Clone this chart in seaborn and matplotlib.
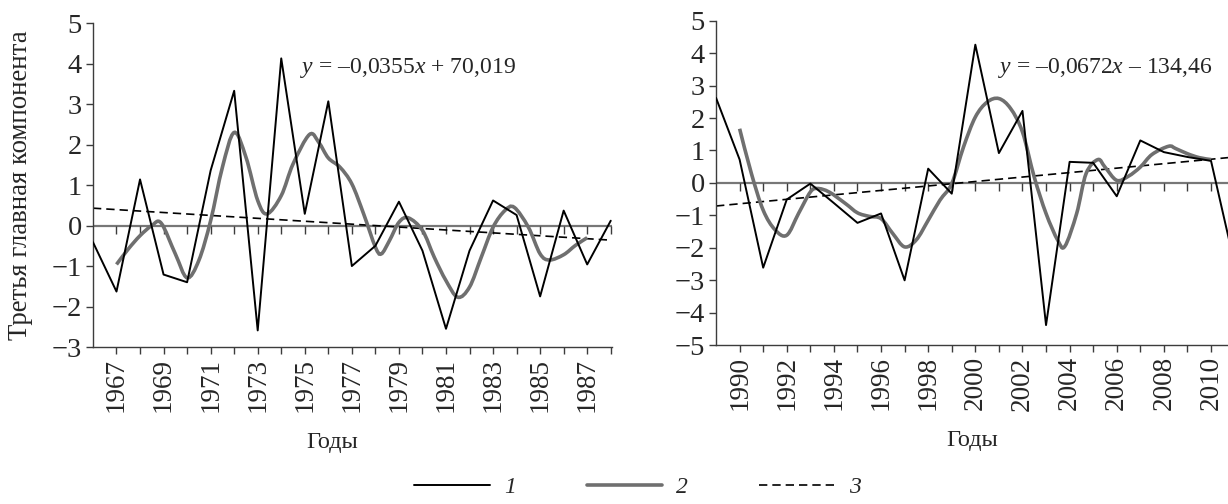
import numpy as np
import matplotlib
matplotlib.use("Agg")
import matplotlib.pyplot as plt
from matplotlib.path import Path
from matplotlib.patches import PathPatch
from matplotlib.lines import Line2D
import seaborn as sns

# ---------------------------------------------------------------- data -----#
# period 1: 1966-1988
years_a = list(range(1966, 1989))
pc3_a = [-0.41, -1.63, 1.14, -1.21, -1.40, 1.36, 3.33, -2.59, 4.13, 0.29, 3.07,
         -1.00, -0.50, 0.59, -0.62, -2.55, -0.62, 0.62, 0.26, -1.75, 0.37, -0.96, 0.12]
# smoothed curve (knots)
smooth_x_a = [1967.0, 1967.5, 1968.0, 1968.5, 1968.9, 1969.5, 1970.0, 1970.5, 1971.0,
              1971.5, 1972.0, 1972.5, 1973.0, 1973.4, 1974.0, 1974.5, 1975.2, 1975.6,
              1976.0, 1976.5, 1977.0, 1977.5, 1978.0, 1978.25, 1978.6, 1979.0, 1979.4,
              1980.0, 1980.5, 1981.0, 1981.5, 1982.0, 1982.5, 1983.0, 1983.5, 1983.9,
              1984.5, 1985.0, 1985.4, 1986.0, 1986.5, 1987.0]
smooth_a = [-0.96, -0.58, -0.25, 0.0, 0.06, -0.70, -1.29, -0.86, 0.12,
            1.44, 2.30, 1.69, 0.62, 0.29, 0.74, 1.52, 2.25, 2.05,
            1.67, 1.44, 1.03, 0.29, -0.53, -0.70, -0.37, 0.08, 0.19,
            -0.12, -0.78, -1.36, -1.77, -1.52, -0.78, -0.04, 0.37, 0.45,
            -0.04, -0.70, -0.85, -0.72, -0.49, -0.30]
trend_x_a = [1966, 1988]
trend_a = [0.43, -0.36]

# period 2: 1989-2011
years_b = list(range(1989, 2012))
pc3_b = [2.62, 0.72, -2.61, -0.51, -0.02, -0.62, -1.23, -0.94, -3.00, 0.44, -0.33,
         4.26, 0.92, 2.22, -4.38, 0.65, 0.62, -0.41, 1.31, 0.95, 0.80, 0.68, -2.50]
smooth_x_b = [1990.0, 1990.5, 1991.0, 1991.5, 1992.0, 1992.5, 1993.0, 1993.3, 1993.8,
              1994.5, 1995.0, 1995.5, 1996.0, 1996.5, 1997.0, 1997.5, 1998.0, 1998.5,
              1999.0, 1999.5, 2000.0, 2000.5, 2001.0, 2001.5, 2002.0, 2002.5, 2003.0,
              2003.5, 2003.8, 2004.3, 2004.7, 2005.2, 2005.5, 2006.0, 2006.5, 2007.0,
              2007.5, 2008.2, 2008.5, 2009.0, 2009.5, 2010.0]
smooth_b = [1.67, 0.29, -0.84, -1.44, -1.61, -0.94, -0.28, -0.17, -0.28,
            -0.64, -0.92, -1.03, -1.10, -1.56, -1.97, -1.75, -1.15, -0.53,
            -0.02, 1.11, 2.03, 2.49, 2.60, 2.29, 1.57, 0.18, -0.94,
            -1.77, -1.95, -0.94, 0.29, 0.72, 0.49, 0.08, 0.21, 0.49,
            0.88, 1.13, 1.06, 0.90, 0.78, 0.72]
trend_x_b = [1989, 2010.72]
trend_b = [-0.71, 0.78]

eq_a = "$y$ = –0,0355$x$ + 70,019"
eq_b = "$y$ = –0,0672$x$ – 134,46"
legend_labels = ["1", "2", "3"]
#-----------------------------------------------------------------------------#

sns.set_style("ticks")
plt.rcParams["font.family"] = ["Liberation Serif", "DejaVu Serif"]
plt.rcParams["mathtext.fontset"] = "custom"
plt.rcParams["mathtext.rm"] = "Liberation Serif"
plt.rcParams["mathtext.it"] = "Liberation Serif:italic"

GRAY = "#6f6f6f"
AXC = "#3c3c3c"


def smooth_path(x, y):
    # catmull-rom style bezier, like a "smoothed line" in a spreadsheet
    pts = np.column_stack([x, y])
    ext = np.vstack([pts[0], pts, pts[-1]])
    verts = [pts[0]]
    codes = [Path.MOVETO]
    for i in range(len(pts) - 1):
        p0, p1, p2, p3 = ext[i], ext[i + 1], ext[i + 2], ext[i + 3]
        verts += [p1 + (p2 - p0) / 6, p2 - (p3 - p1) / 6, p2]
        codes += [Path.CURVE4] * 3
    return Path(verts, codes)


def panel(ax, years, vals, sx, sy, tx, ty, xlim, ylim, tick_years, label_years, eq, eq_pos, xlab_x):
    sns.lineplot(x=years, y=vals, ax=ax, color="black", lw=1.4, zorder=4)
    ax.add_patch(PathPatch(smooth_path(sx, sy), fill=False, edgecolor=GRAY, lw=2.6, zorder=3))
    sns.lineplot(x=tx, y=ty, ax=ax, color="black", lw=1.2, dashes=(5, 3), zorder=2)

    ax.axhline(0, color="#777777", lw=1.6, zorder=1)
    ax.plot(tick_years, np.zeros(len(tick_years)), ls="none", marker=3, ms=6,
            mew=1.0, color=AXC, zorder=1)

    ax.set_xlim(*xlim)
    ax.set_ylim(*ylim)
    ax.set_yticks(range(ylim[0], ylim[1] + 1))
    ax.set_xticks(tick_years)
    ax.set_xticklabels([str(y) if y in label_years else "" for y in tick_years], rotation=90)
    ax.tick_params(axis="x", labelsize=19.5, length=5, width=1.0, color=AXC, pad=3)
    ax.tick_params(axis="y", labelsize=20.5, length=5, width=1.0, color=AXC, pad=3)

    for s in ["top", "right"]:
        ax.spines[s].set_visible(False)
    for s in ["left", "bottom"]:
        ax.spines[s].set_color(AXC)
        ax.spines[s].set_linewidth(1.0)

    ax.set_xlabel("Годы", fontsize=17.5)
    ax.xaxis.set_label_coords(xlab_x, -0.262)
    ax.text(eq_pos[0], eq_pos[1], eq, transform=ax.transAxes, fontsize=17, va="center", ha="left")


fig = plt.figure(figsize=(12.28, 5.04), dpi=100)
ax1 = fig.add_axes([0.0757, 0.3115, 0.4226, 0.6425])
ax2 = fig.add_axes([0.5831, 0.315, 0.4169, 0.644])

panel(ax1, years_a, pc3_a, smooth_x_a, smooth_a, trend_x_a, trend_a,
      (1966, 1988.05), (-3, 5), list(range(1967, 1989)), list(range(1967, 1989, 2)),
      eq_a, (0.399, 0.861), 0.46)
panel(ax2, years_b, pc3_b, smooth_x_b, smooth_b, trend_x_b, trend_b,
      (1989, 2010.72), (-5, 5), list(range(1990, 2011)), list(range(1990, 2011, 2)),
      eq_b, (0.551, 0.854), 0.5)

ax1.set_ylabel("Третья главная компонента", fontsize=19.3)
ax1.yaxis.set_label_coords(-0.115, 0.5)

handles = [Line2D([], [], color="black", lw=1.4),
           Line2D([], [], color=GRAY, lw=2.6),
           Line2D([], [], color="black", lw=1.2, dashes=(5, 3))]
fig.legend(handles, legend_labels, loc="lower center", bbox_to_anchor=(0.519, -0.03), ncol=3,
           frameon=False, handlelength=3.2, columnspacing=3.0, handletextpad=0.6,
           prop={"family": "Liberation Serif", "style": "italic", "size": 17})

fig.savefig("out.png", dpi=100)
